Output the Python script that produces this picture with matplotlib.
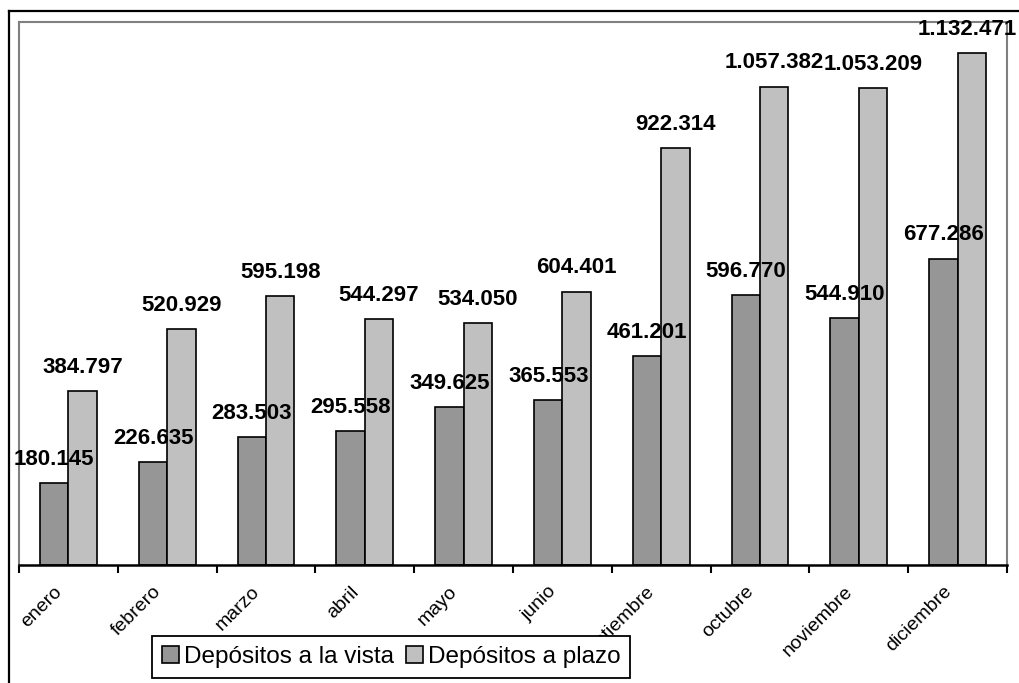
import numpy as np
import matplotlib
matplotlib.use("Agg")
import matplotlib.pyplot as plt
import matplotlib.transforms as mtransforms
from matplotlib.lines import Line2D

meses = ["enero", "febrero", "marzo", "abril", "mayo", "junio",
         "septiembre", "octubre", "noviembre", "diciembre"]
vista = [180145, 226635, 283503, 295558, 349625, 365553, 461201, 596770, 544910, 677286]
plazo = [384797, 520929, 595198, 544297, 534050, 604401, 922314, 1057382, 1053209, 1132471]
series = ["Depósitos a la vista", "Depósitos a plazo"]

plt.rcParams["font.family"] = ["Liberation Sans", "DejaVu Sans"]

W, H = 1019, 683
fig = plt.figure(figsize=(W / 100, H / 100), dpi=100)
ax = fig.add_axes([19 / W, 118 / H, (1007 - 19) / W, (661 - 118) / H])

x = np.arange(len(meses))
w = 0.287
b1 = ax.bar(x - w / 2, vista, w, color="#969696", edgecolor="black", linewidth=1.2,
            label=series[0], zorder=3)
b2 = ax.bar(x + w / 2, plazo, w, color="#c0c0c0", edgecolor="black", linewidth=1.2,
            label=series[1], zorder=3)

def fmt(v):
    return f"{v:,}".replace(",", ".")

etiquetas = []
for bars, vals in [(b1, vista), (b2, plazo)]:
    for r, v in zip(bars, vals):
        t = ax.annotate(fmt(v), (r.get_x() + r.get_width() / 2, r.get_height()),
                        xytext=(0, 13), textcoords="offset points",
                        ha="center", va="baseline", fontsize=16, fontweight="bold",
                        annotation_clip=False, zorder=4)
        etiquetas.append(t)

ax.set_xlim(-0.5, len(meses) - 0.5)
ax.set_ylim(0, 1200000)
ax.set_yticks([])

ax.set_xticks(x)
ax.set_xticklabels(meses, rotation=45, ha="right", rotation_mode="anchor", fontsize=14)
ax.tick_params(axis="x", which="major", length=0, pad=13)
ax.set_xticks(np.arange(-0.5, len(meses)), minor=True)
ax.tick_params(axis="x", which="minor", length=6, width=1.5, direction="out")
desp = mtransforms.ScaledTranslation(-0.15, 0, fig.dpi_scale_trans)
for lab in ax.get_xticklabels():
    lab.set_transform(lab.get_transform() + desp)

for s in ["left", "top", "right"]:
    ax.spines[s].set_color("#808080")
    ax.spines[s].set_linewidth(1.5)
ax.spines["bottom"].set_linewidth(1.8)
ax.spines["bottom"].set_zorder(5)

leg = ax.legend(loc="center", bbox_to_anchor=(391 / W, 26 / H), bbox_transform=fig.transFigure,
                ncol=2, fontsize=17.5, frameon=True, fancybox=False, framealpha=1,
                edgecolor="black", handlelength=0.7, handleheight=0.7, handletextpad=0.2,
                columnspacing=0.5, borderpad=0.4, borderaxespad=0)
leg.get_frame().set_linewidth(1.3)
leg.set_zorder(10)

# marco exterior
fig.add_artist(Line2D([9 / W, 9 / W], [0, 1 - 10.5 / H], color="black", lw=1.6,
                      transform=fig.transFigure))
fig.add_artist(Line2D([9 / W, 1], [1 - 10.5 / H, 1 - 10.5 / H], color="black", lw=1.6,
                      transform=fig.transFigure))

# que ninguna etiqueta se salga por la derecha
fig.canvas.draw()
r = fig.canvas.get_renderer()
for t in etiquetas:
    bb = t.get_window_extent(r)
    if bb.x1 > W - 1:
        dx = (bb.x1 - (W - 2)) * 72 / 100
        t.set_position((t.xyann[0] - dx, t.xyann[1]))

fig.savefig("out.png", dpi=100)
